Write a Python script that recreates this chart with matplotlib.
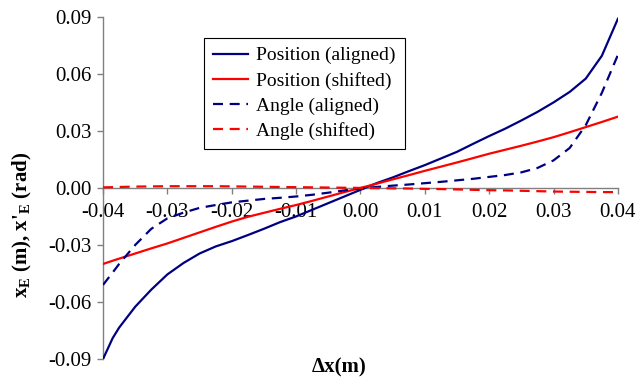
import matplotlib
matplotlib.use("Agg")
import matplotlib.pyplot as plt
from matplotlib.ticker import FormatStrFormatter

plt.rcParams["font.family"] = ["Liberation Serif", "DejaVu Serif"]
plt.rcParams["mathtext.fontset"] = "custom"
plt.rcParams["mathtext.rm"] = "Liberation Serif"
plt.rcParams["mathtext.bf"] = "Liberation Serif:bold"
plt.rcParams["axes.unicode_minus"] = False

# displacement dx (m)
dx = [-0.04, -0.0385, -0.0375, -0.035, -0.0325, -0.03, -0.0275, -0.025, -0.0225,
      -0.02, -0.0175, -0.015, -0.0125, -0.01, -0.0075, -0.005, -0.0025,
      0.0, 0.0025, 0.005, 0.0075, 0.01, 0.0125, 0.015, 0.0175,
      0.02, 0.0225, 0.025, 0.0275, 0.03, 0.0325, 0.035, 0.0375, 0.04]

pos_aligned = [-0.090, -0.079, -0.0735, -0.0625, -0.0535, -0.0455, -0.0395, -0.0345, -0.0308,
               -0.028, -0.0248, -0.0215, -0.018, -0.015, -0.0115, -0.008, -0.0045,
               -0.001, 0.0025, 0.0055, 0.0088, 0.012, 0.0155, 0.019, 0.0232,
               0.0273, 0.0312, 0.0355, 0.040, 0.045, 0.0505, 0.0575, 0.0695, 0.089]

pos_shifted = [-0.0400, -0.0383, -0.0372, -0.0345, -0.0318, -0.0292, -0.0263, -0.0234, -0.0205,
               -0.0177, -0.0152, -0.0131, -0.0110, -0.0090, -0.0068, -0.0045, -0.0022,
               0.0000, 0.0022, 0.0045, 0.0067, 0.0090, 0.0112, 0.0134, 0.0157,
               0.0180, 0.0201, 0.0222, 0.0244, 0.0267, 0.0293, 0.0320, 0.0347, 0.0375]

ang_aligned = [-0.051, -0.0445, -0.040, -0.030, -0.0215, -0.016, -0.013, -0.0105, -0.009,
               -0.0076, -0.0067, -0.0058, -0.0052, -0.0045, -0.0036, -0.0025, -0.0013,
               -0.0003, 0.0005, 0.0012, 0.0018, 0.0025, 0.0032, 0.0040, 0.0048,
               0.0058, 0.0068, 0.0082, 0.0105, 0.0145, 0.021, 0.033, 0.050, 0.070]

ang_shifted = [0.0003, 0.0004, 0.0005, 0.0007, 0.0008, 0.0009, 0.0009, 0.0009, 0.0009,
               0.0008, 0.0007, 0.0006, 0.0005, 0.0004, 0.0003, 0.0002, 0.0001,
               0.0, -0.0001, -0.0002, -0.0003, -0.0005, -0.0006, -0.0008, -0.0010,
               -0.0012, -0.0013, -0.0015, -0.0017, -0.0019, -0.0020, -0.0021, -0.0022, -0.0022]

x_ticks = [-0.04, -0.03, -0.02, -0.01, 0.0, 0.01, 0.02, 0.03, 0.04]
y_ticks = [-0.09, -0.06, -0.03, 0.0, 0.03, 0.06, 0.09]

NAVY = "#000080"
RED = "#FF0000"
GREY = "#808080"

fig = plt.figure(figsize=(6.4, 3.79), dpi=100)
ax = fig.add_axes([0.161, 0.0528, 0.8045, 0.9027])

dash = (0, (4.5, 3))
ax.plot(dx, pos_aligned, color=NAVY, lw=1.6, label="Position (aligned)")
ax.plot(dx, pos_shifted, color=RED, lw=1.6, label="Position (shifted)")
ax.plot(dx, ang_aligned, color=NAVY, lw=1.6, ls=dash, label="Angle (aligned)")
ax.plot(dx, ang_shifted, color=RED, lw=1.6, ls=dash, label="Angle (shifted)")

ax.set_xlim(-0.04, 0.04)
ax.set_ylim(-0.09, 0.09)
ax.set_xticks(x_ticks)
ax.set_yticks(y_ticks)
ax.xaxis.set_major_formatter(FormatStrFormatter("%.2f"))
ax.yaxis.set_major_formatter(FormatStrFormatter("%.2f"))

# x axis runs through y = 0
ax.spines["bottom"].set_position(("data", 0))
ax.spines["top"].set_visible(False)
ax.spines["right"].set_visible(False)
for side in ("left", "bottom"):
    ax.spines[side].set_color(GREY)
    ax.spines[side].set_linewidth(1.0)
    ax.spines[side].set_zorder(1)

ax.tick_params(axis="both", direction="out", length=4.5, width=1.0,
               color=GREY, labelsize=15, labelcolor="black")
ax.tick_params(axis="x", pad=6)
ax.tick_params(axis="y", pad=3.5)

fig.text(22 / 640, 1 - 225 / 379, r"x$_\mathbf{E}$ (m), x'$_\mathbf{E}$ (rad)",
         rotation=90, ha="center", va="center", fontsize=15, fontweight="bold")
fig.text(339 / 640, 1 - 367 / 379, "\u0394x(m)",
         ha="center", va="center", fontsize=15, fontweight="bold")

leg = ax.legend(loc="upper left", bbox_to_anchor=(204 / 640, 1 - 38 / 379),
                bbox_transform=fig.transFigure, fontsize=14, frameon=True,
                fancybox=False, shadow=False, framealpha=1,
                edgecolor="black", borderpad=0.45, labelspacing=0.38,
                handlelength=1.8, handletextpad=0.45, borderaxespad=0)
leg.get_frame().set_linewidth(0.8)

fig.savefig("out.png", dpi=100)
